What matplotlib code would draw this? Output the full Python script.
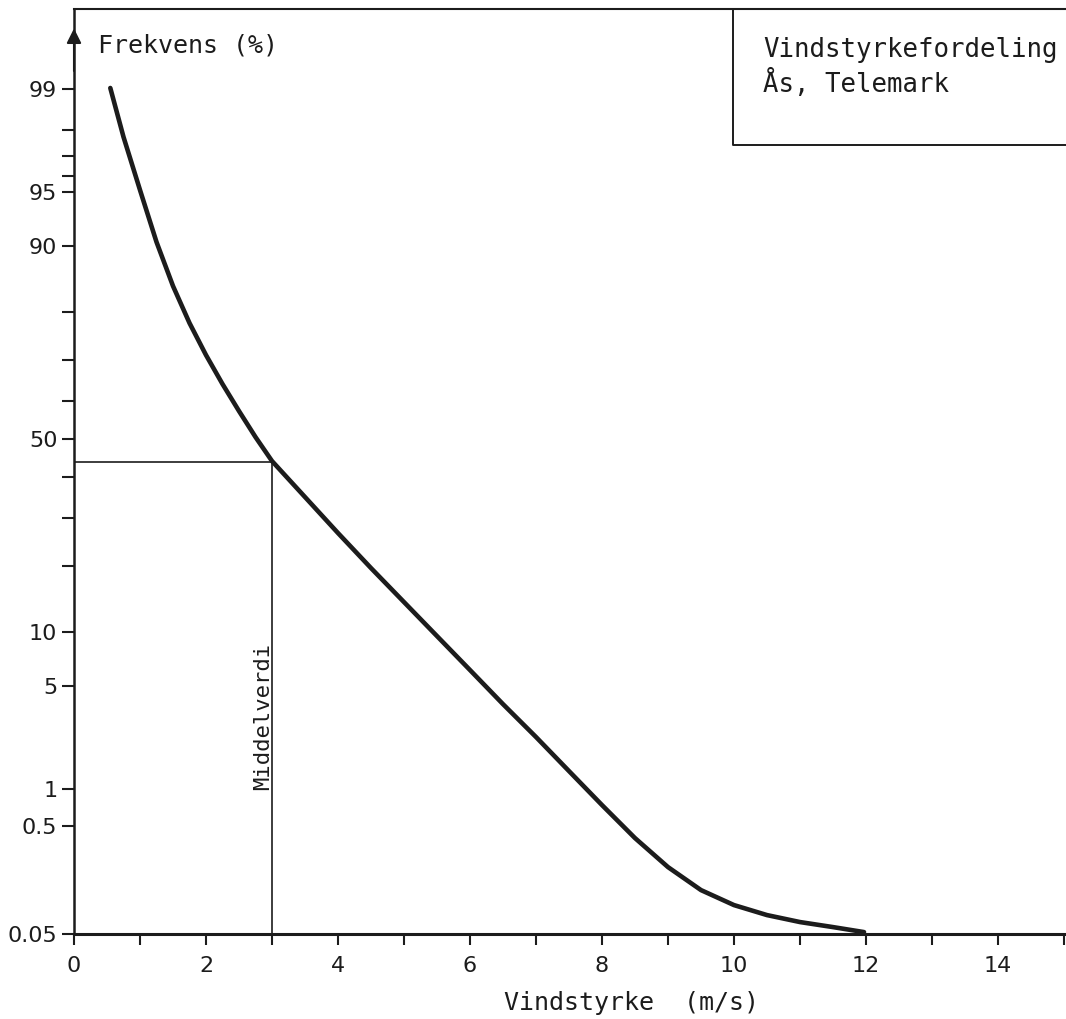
import math
import numpy as np
import matplotlib
matplotlib.use('agg')
from matplotlib import pyplot
from matplotlib.ticker import FixedLocator, NullFormatter

# wind speed (m/s) vs. exceedance frequency (%)
wind = [0.55, 0.75, 1.0, 1.25, 1.5, 1.75, 2.0, 2.25, 2.5, 2.75, 3.0,
        3.5, 4.0, 4.5, 5.0, 5.5, 6.0, 6.5, 7.0, 7.5, 8.0, 8.5, 9.0,
        9.5, 10.0, 10.5, 11.0, 11.5, 11.97]
freq = [99.02, 97.77, 95.11, 90.49, 84.55, 77.97, 71.17, 64.27, 57.38, 50.53, 44.18,
        34.99, 26.60, 19.55, 13.92, 9.51, 6.23, 3.90, 2.38, 1.364, 0.748, 0.399, 0.2215,
        0.1356, 0.0973, 0.0776, 0.0661, 0.0588, 0.0523]

mean_wind = 3.0
mean_freq = 44.0

y_major = [0.05, 0.5, 1, 5, 10, 50, 90, 95, 99]
y_major_labels = ['0.05', '0.5', '1', '5', '10', '50', '90', '95', '99']
y_minor = [20, 30, 40, 60, 70, 80, 96, 97, 98]
x_major = [0, 2, 4, 6, 8, 10, 12, 14]
x_minor = list(range(0, 16))

INK = '#1c1c1c'
LETTER = 'DejaVu Sans Mono'

# normal probability scale (percent <-> z)
erf = np.vectorize(math.erf)
zgrid = np.linspace(-6, 6, 24001)
pgrid = 100 * 0.5 * (1 + erf(zgrid / math.sqrt(2)))

def prob_fwd(p):
  return np.interp(p, pgrid, zgrid)

def prob_inv(z):
  return 100 * 0.5 * (1 + erf(np.asarray(z, dtype=float) / math.sqrt(2)))

pyplot.rcParams['font.family'] = 'DejaVu Sans'

fig = pyplot.figure(figsize=(10.66, 10.19), dpi=100)
ax = fig.add_axes([74/1066, 85/1019, 992/1066, 925/1019])
ax.set_yscale('function', functions=(prob_fwd, prob_inv))

ax.plot(wind, freq, color=INK, lw=3.3, solid_capstyle='round', solid_joinstyle='round')
# mean value guide lines
ax.plot([0, mean_wind], [mean_freq, mean_freq], color=INK, lw=1.2)
ax.plot([mean_wind, mean_wind], [0.05, mean_freq], color=INK, lw=1.2)

ax.set_xlim(0, 992/66)
ax.set_ylim(0.05, prob_inv(2.859))

ax.yaxis.set_major_locator(FixedLocator(y_major))
ax.set_yticklabels(y_major_labels)
ax.yaxis.set_minor_locator(FixedLocator(y_minor))
ax.yaxis.set_minor_formatter(NullFormatter())
ax.xaxis.set_major_locator(FixedLocator(x_major))
ax.xaxis.set_minor_locator(FixedLocator(x_minor))

ax.tick_params(axis='y', which='both', direction='out', length=9, width=1.5, colors=INK, pad=3, labelsize=16)
ax.tick_params(axis='x', which='both', direction='out', length=8, width=1.5, colors=INK, pad=8, labelsize=16)

ax.spines['right'].set_visible(False)
ax.spines['left'].set_linewidth(1.8)
ax.spines['bottom'].set_linewidth(2.2)
ax.spines['top'].set_linewidth(1.5)
for side in ['left', 'bottom', 'top']:
  ax.spines[side].set_color(INK)

# arrow head on the y axis
ax.annotate('', xy=(0, 0.982), xytext=(0, 0.93), xycoords='axes fraction',
            arrowprops=dict(arrowstyle='-|>', color=INK, lw=1.5, mutation_scale=22),
            annotation_clip=False)

ax.text(0.024, 0.961, 'Frekvens (%)', transform=ax.transAxes, fontsize=18,
        family=LETTER, color=INK, va='center', ha='left')
ax.text(2.87, 0.235, 'Middelverdi', transform=ax.get_xaxis_transform(),
        rotation=90, fontsize=16, family=LETTER, color=INK, ha='center', va='center')

# title box in upper right corner
bx, by = 0.664, 0.853
ax.plot([bx, bx, 1.0], [1.0, by, by], transform=ax.transAxes, color=INK, lw=1.4, clip_on=False)
ax.text(0.695, 0.956, 'Vindstyrkefordeling', transform=ax.transAxes, fontsize=18.5,
        family=LETTER, color=INK, va='center', ha='left')
ax.text(0.695, 0.920, 'Ås, Telemark', transform=ax.transAxes, fontsize=18.5,
        family=LETTER, color=INK, va='center', ha='left')

fig.text(632/1066, 1 - 1003/1019, 'Vindstyrke  (m/s)', fontsize=18, family=LETTER,
         color=INK, ha='center', va='center')

fig.savefig('out.png', dpi=100)
pyplot.close(fig)
